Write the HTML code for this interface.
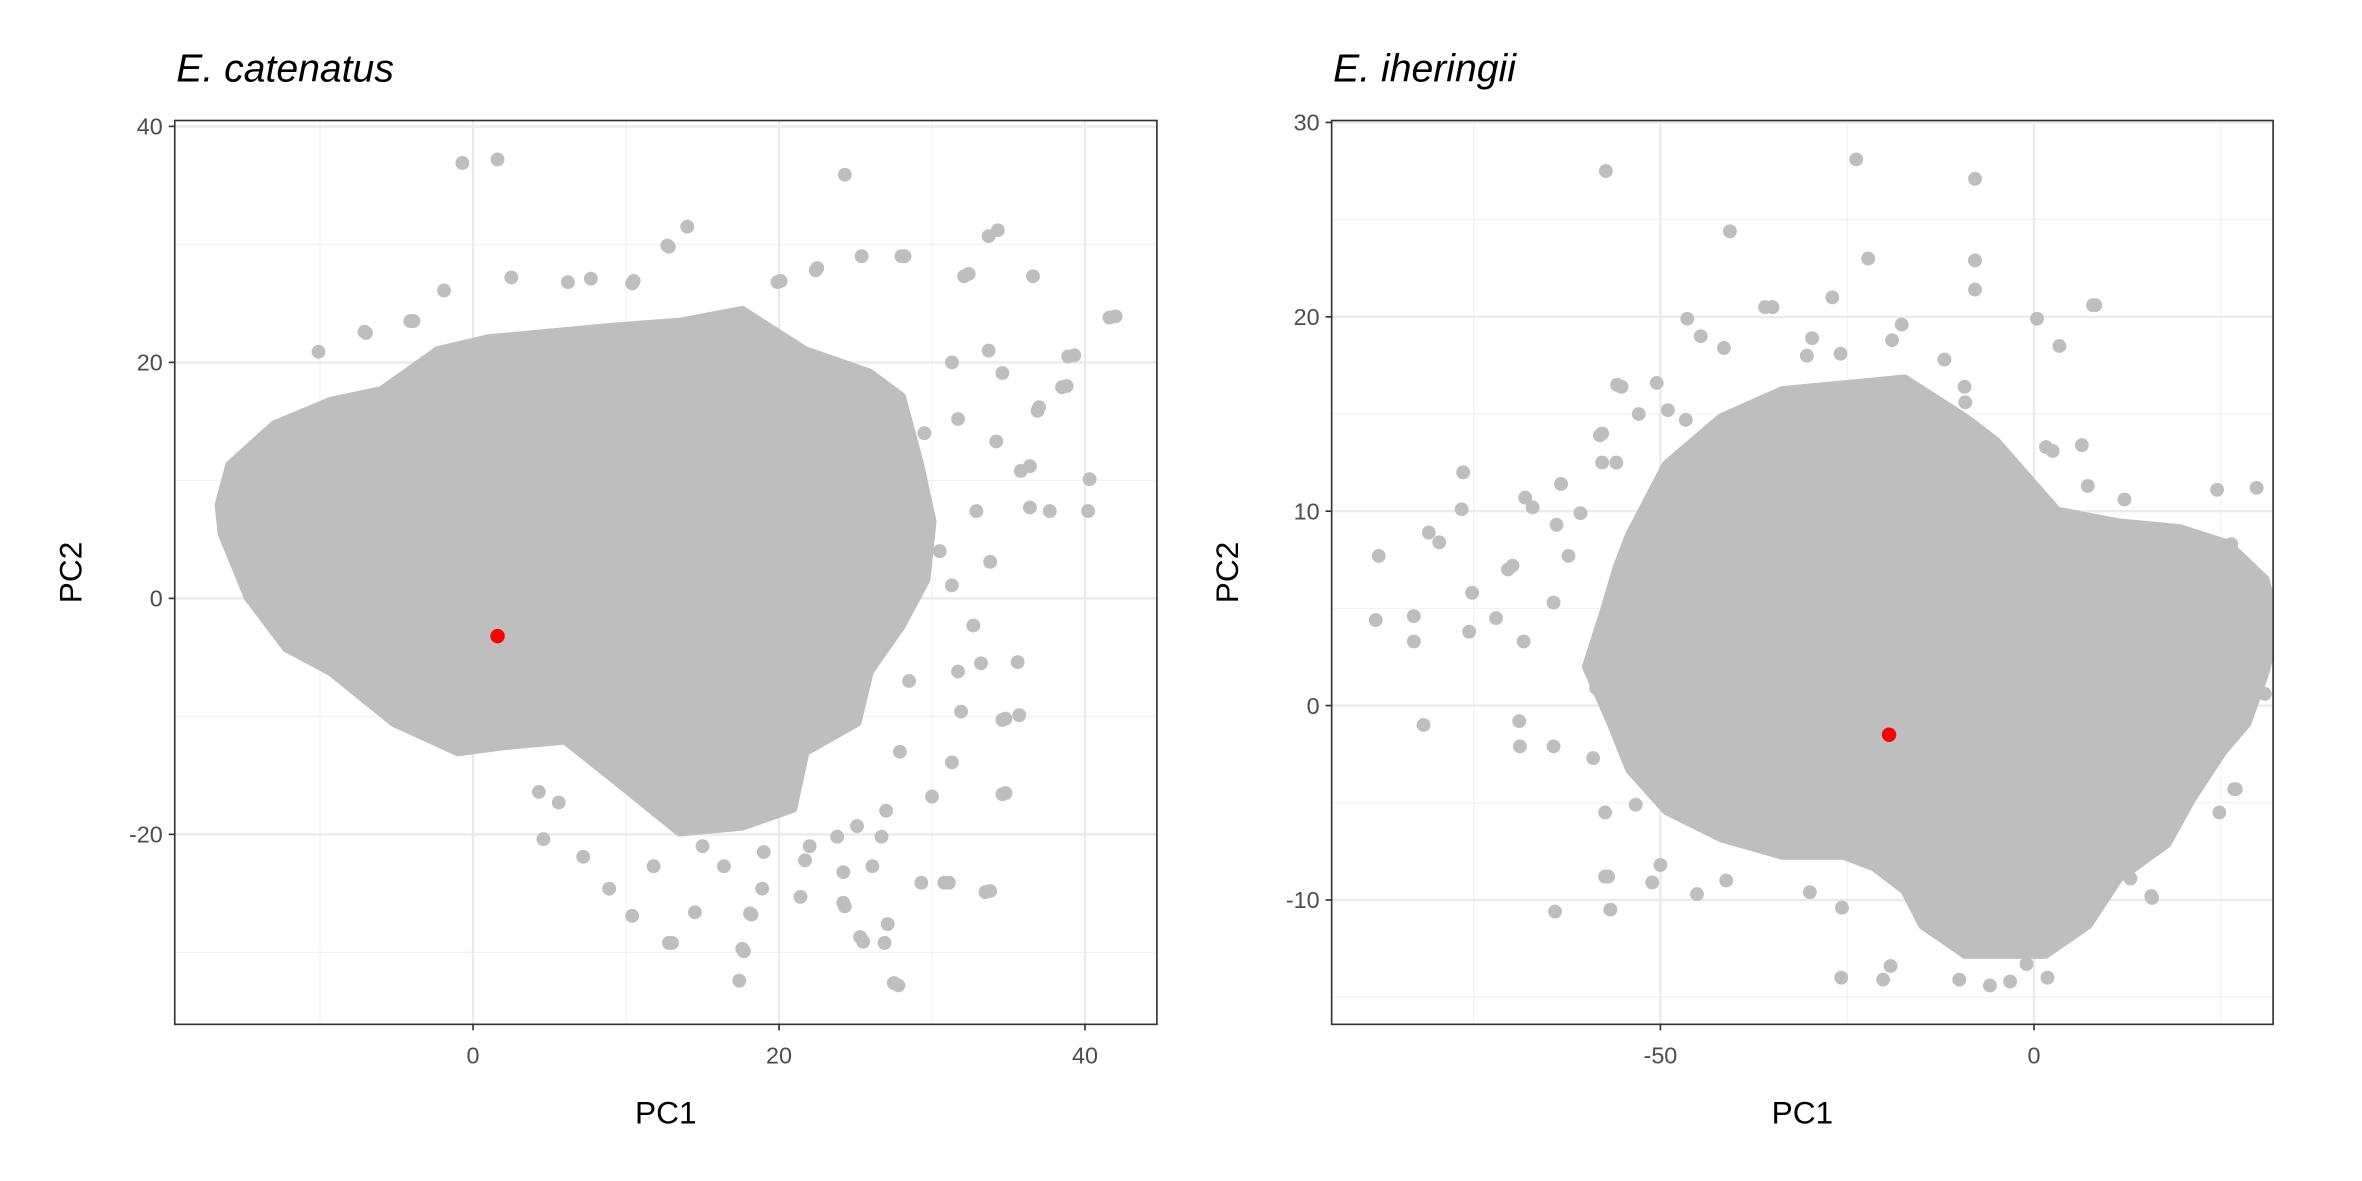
<!DOCTYPE html>
<html><head><meta charset="utf-8"><style>
html,body{margin:0;padding:0;background:#fff}
svg{display:block}
text{font-family:"Liberation Sans",sans-serif}
</style></head><body>
<svg id="chart" width="2362" height="1181" viewBox="0 0 1568 784" xmlns="http://www.w3.org/2000/svg"></svg>
<script>
// ---- Panel A data: E. catenatus ----
const catCloud = [[-16.6,7.9],[-15.9,11.3],[-13.0,14.7],[-9.3,16.7],[-6.0,17.6],[-2.3,21.0],[1.0,22.0],[5.2,22.5],[9.3,23.0],[13.5,23.4],[17.6,24.4],[21.7,21.0],[25.9,19.1],[28.0,17.1],[29.2,11.3],[30.0,6.5],[29.6,1.6],[28.0,-2.3],[25.9,-6.2],[25.1,-10.5],[21.7,-13.0],[20.9,-17.8],[17.6,-19.3],[13.5,-19.8],[9.3,-15.4],[6.0,-12.0],[1.9,-12.5],[-1.0,-13.0],[-5.2,-10.5],[-9.3,-6.2],[-12.2,-4.2],[-14.7,0.1],[-16.4,5.5]];
const catPC1 = [-0.7,1.6,24.3,14,12.7,34.3,33.7,42,36.6,32.4,39.3,38.8,37.7,40.3,36.4,37,33.2,34.8,34.8,33.8,31.1,29.3,27.8,17.4,17.7,13,27.1,25.5,24.3,18.1,10.4,4.6,-10.1,-7.1,-4.1,-1.9,2.5,10.5,20.1,22.5,28.2,25.4,
 31.3,31.7,34.2,35.8,36.4,32.9,33.8,31.3,32.7,31.7,31.9,34.6,35.6,31.3,34.6,30,26.7,24.2,21.7,18.9,16.4,11.8,8.9,7.2,4.3,5.6,25.1,27.9,23.8,17.6,14.3,
 -7,-3.9,6.2,7.7,10.4,12.8,19.9,22.4,28,32.1,41.6,38.9,38.5,36.9,40.2,33.7,34.6,35.7,33.5,30.8,27.5,26.9,25.3,17.6,12.8,14.5,18.2,21.4,24.2,26.1,29.5,30.5,28.5,27,22,19,15,12];
const catPC2 = [36.9,37.2,35.9,31.5,29.9,31.2,30.7,23.9,27.3,27.5,20.6,18,7.4,10.1,11.2,16.2,-5.5,-10.2,-16.5,-24.8,-24.1,-24.1,-32.8,-32.4,-29.9,-29.2,-27.6,-29.1,-26.1,-26.7,-26.9,-20.4,20.9,22.6,23.5,26.1,27.2,26.9,26.9,28,29,29,
 20,15.2,13.3,10.8,7.7,7.4,3.1,1.1,-2.3,-6.2,-9.6,-10.3,-5.4,-13.9,-16.6,-16.8,-20.2,-23.2,-22.2,-24.6,-22.7,-22.7,-24.6,-21.9,-16.4,-17.3,-19.3,-13,-20.2,-16.8,-15.4,
 22.5,23.5,26.8,27.1,26.7,29.8,26.8,27.8,29,27.3,23.8,20.5,17.9,15.9,7.4,21,19.1,-9.9,-24.9,-24.1,-32.6,-29.2,-28.7,-29.7,-29.2,-26.6,-26.8,-25.3,-25.8,-22.7,14,4,-7,-18,-21,-21.5,-21,-18];
const catFocal = [1.6,-3.2];
const catXTicks = [0,20,40];
const catYTicks = [-20,0,20,40];
const catXMinor = [-10,10,30];
const catYMinor = [-30,-10,10,30];

// ---- Panel B data: E. iheringii ----
const iheCloud = [[-54.1,8.8],[-49.2,12.4],[-41.9,14.8],[-33.7,16.2],[-25.5,16.5],[-17.3,16.8],[-9.2,14.8],[-5.1,13.6],[-1.0,11.8],[3.1,10.0],[11.3,9.4],[19.5,9.1],[26.0,8.3],[30.9,6.5],[32.5,4.1],[30.9,1.7],[28.5,-0.9],[25.2,-2.4],[21.1,-4.8],[17.8,-7.1],[11.3,-8.9],[7.2,-11.3],[1.5,-12.8],[-9.2,-12.8],[-14.9,-11.3],[-17.3,-9.5],[-21.4,-8.3],[-25.5,-7.7],[-33.7,-7.7],[-41.9,-6.8],[-49.2,-5.4],[-54.1,-3.3],[-56.6,-0.9],[-59.9,2.0],[-57.4,5.0],[-55.8,7.1]];
const ihePC1 = [-57.3,-23.8,-7.9,-40.7,-22.2,-7.9,-7.9,7.9,0.4,3.4,1.6,29.8,-87.7,-88.1,-83,-83,-81.7,-76.4,-81,-79.6,-76.6,-75.2,-75.6,-68.1,-67.1,-69.8,-70.4,-72,-68.3,-63.3,-63.9,-68.9,-68.8,-64.3,-64.1,-56.7,-57,-55.2,-58.1,-46.6,-25.8,-19.2,-3.2,1.8,15.7,27,31.3,30.6,
 6.4,7.2,12.1,2.5,26.8,24.8,15.8,12.9,31.3,30.9,26.4,
 -55.8,-50.5,-57.8,-52.9,-49,-57.8,-55.9,-60.7,-62.3,-64.3,-58.6,-59,-57.4,-53.3,-50,-51.1,-57.4,-45.1,-41.2,-30,-25.7,-20.2,-10,-5.9,-1,
 -46.4,-44.6,-41.5,-36,-35,-27,-9.3,-9.2,-17.7,-19,-29.7,-30.4,-25.9,-12,8.2,24.5];
const ihePC2 = [27.5,28.1,27.1,24.4,23,22.9,21.4,20.6,19.9,18.5,13.3,11.2,7.7,4.4,4.6,3.3,-1,12,8.9,8.4,10.1,5.8,3.8,10.7,10.2,7.2,7,4.5,3.3,11.4,9.3,-0.8,-2.1,-2.1,-10.6,-10.5,-8.8,16.4,13.9,14.7,-14,-13.4,-14.2,-14,-9.8,-4.3,2.6,5.7,
 13.4,11.3,10.6,13.1,-4.3,-5.5,-9.9,-8.9,5.7,0.6,8.3,
 16.5,16.6,14,15,15.2,12.5,12.5,9.9,7.7,5.3,0.9,-2.7,-5.5,-5.1,-8.2,-9.1,-8.8,-9.7,-9,-9.6,-10.4,-14.1,-14.1,-14.4,-13.3,
 19.9,19,18.4,20.5,20.5,21,16.4,15.6,19.6,18.8,18.9,18,18.1,17.8,20.6,11.1];
const iheFocal = [-19.4,-1.5];
const iheXTicks = [-50,0];
const iheYTicks = [-10,0,10,20,30];
const iheXMinor = [-75,-25,25];
const iheYMinor = [-15,-5,5,15,25];

const NS='http://www.w3.org/2000/svg';
const svg=document.getElementById('chart');
function mk(tag,attrs,parent){const e=document.createElementNS(NS,tag);for(const k in attrs)e.setAttribute(k,attrs[k]);(parent||svg).appendChild(e);return e;}

function panel(o){
  const g=mk('g',{});
  
  
  const sx=v=>o.x0+(v-o.xmin)/(o.xmax-o.xmin)*(o.x1-o.x0);
  const sy=v=>o.y1-(v-o.ymin)/(o.ymax-o.ymin)*(o.y1-o.y0);
  const cp=mk('clipPath',{id:o.name+'-clip'},g);
  mk('rect',{x:o.x0,y:o.y0,width:o.x1-o.x0,height:o.y1-o.y0},cp);
  o.xMinor.forEach(v=>{const l=mk('line',{x1:sx(v),x2:sx(v),y1:o.y0,y2:o.y1,stroke:'#f2f2f2','stroke-width':0.8},g);});
  o.yMinor.forEach(v=>{const l=mk('line',{x1:o.x0,x2:o.x1,y1:sy(v),y2:sy(v),stroke:'#f2f2f2','stroke-width':0.8},g);});
  o.xTicks.forEach(v=>{const l=mk('line',{x1:sx(v),x2:sx(v),y1:o.y0,y2:o.y1,stroke:'#ebebeb','stroke-width':1.6},g);});
  o.yTicks.forEach(v=>{const l=mk('line',{x1:o.x0,x2:o.x1,y1:sy(v),y2:sy(v),stroke:'#ebebeb','stroke-width':1.6},g);});
  const pg=mk('g',{'clip-path':`url(#${o.name}-clip)`},g);
  
  
  const pts=o.cloud.map(p=>sx(p[0])+','+sy(p[1])).join(' ');
  const poly=mk('polygon',{points:pts,fill:'#bebebe',stroke:'#bebebe','stroke-width':6,'stroke-linejoin':'round'},pg);
  
  
  o.px.forEach((v,i)=>{const c=mk('circle',{cx:sx(v),cy:sy(o.py[i]),r:4.6,fill:'#bebebe'},pg);});
  const f=mk('circle',{cx:sx(o.focal[0]),cy:sy(o.focal[1]),r:4.8,fill:'#ff0000'},pg);
  
  
  const b=mk('rect',{x:o.x0,y:o.y0,width:o.x1-o.x0,height:o.y1-o.y0,fill:'none',stroke:'#333','stroke-width':1.1},g);
  
  
  o.xTicks.forEach(v=>{mk('line',{x1:sx(v),x2:sx(v),y1:o.y1,y2:o.y1+4,stroke:'#333','stroke-width':1.1},g);
    const t=mk('text',{x:sx(v),y:o.y1+26,'text-anchor':'middle','font-size':15.5,fill:'#4d4d4d'},g);t.textContent=v;
    });
  o.yTicks.forEach(v=>{mk('line',{x1:o.x0-4,x2:o.x0,y1:sy(v),y2:sy(v),stroke:'#333','stroke-width':1.1},g);
    const t=mk('text',{x:o.x0-8,y:sy(v)+5.5,'text-anchor':'end','font-size':15.5,fill:'#4d4d4d'},g);t.textContent=v;
    });
  const xt=mk('text',{x:(o.x0+o.x1)/2,y:o.y1+66,'text-anchor':'middle','font-size':21,fill:'#000'},g);xt.textContent='PC1';
  
  const yt=mk('text',{x:0,y:0,'text-anchor':'middle','font-size':21,fill:'#000',transform:`translate(${o.x0-62},${(o.y0+o.y1)/2}) rotate(-90)`},g);yt.textContent='PC2';
  
  const tt=mk('text',{x:o.x0+1,y:o.y0-26,'font-size':26,'font-style':'italic',fill:'#000'},g);tt.textContent=o.title;
  
}

panel({name:'catenatus-panel',title:'E. catenatus',x0:116,x1:768,y0:80,y1:680,xmin:-19.5,xmax:44.7,ymin:-36.1,ymax:40.5,
  cloud:catCloud,px:catPC1,py:catPC2,focal:catFocal,xTicks:catXTicks,yTicks:catYTicks,xMinor:catXMinor,yMinor:catYMinor});
panel({name:'iheringii-panel',title:'E. iheringii',x0:884,x1:1509,y0:80,y1:680,xmin:-94,xmax:32,ymin:-16.4,ymax:30.1,
  cloud:iheCloud,px:ihePC1,py:ihePC2,focal:iheFocal,xTicks:iheXTicks,yTicks:iheYTicks,xMinor:iheXMinor,yMinor:iheYMinor});
</script>
</body></html>
